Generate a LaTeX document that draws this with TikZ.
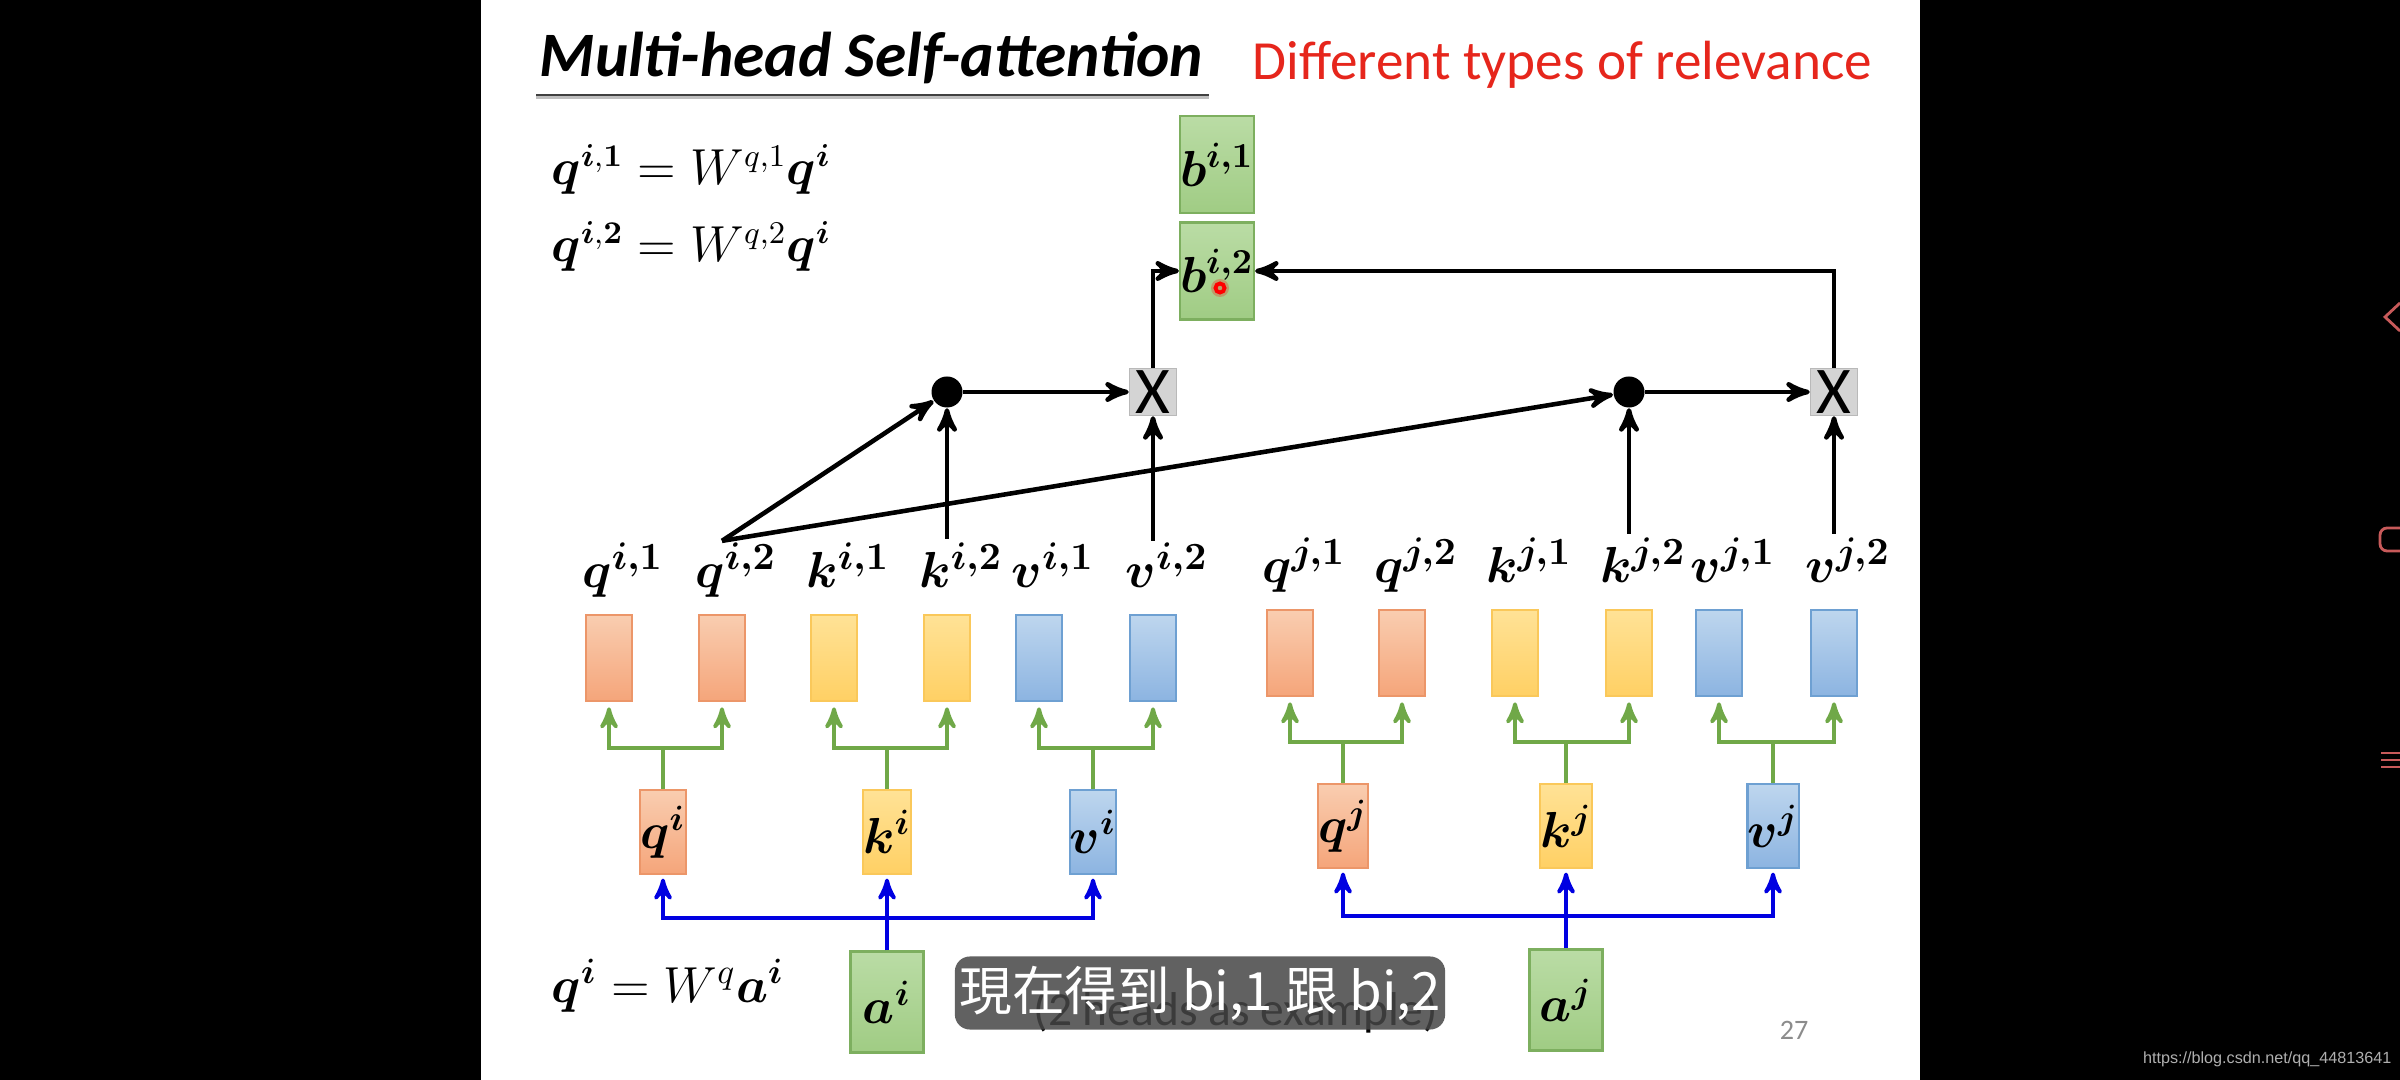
\documentclass[tikz,border=0pt]{standalone}
\usepackage{fontspec}
\usepackage{amsmath}
\usepackage{bm}
\usetikzlibrary{arrows,positioning}
\newfontfamily\calib{Carlito}
\newfontfamily\cjk{Noto Sans CJK TC}
\newfontfamily\webfont{Liberation Sans}
\definecolor{qtop}{RGB}{249,205,176}
\definecolor{qbot}{RGB}{245,165,122}
\definecolor{qline}{RGB}{236,150,105}
\definecolor{ktop}{RGB}{255,226,150}
\definecolor{kbot}{RGB}{255,208,100}
\definecolor{kline}{RGB}{250,200,90}
\definecolor{vtop}{RGB}{190,214,238}
\definecolor{vbot}{RGB}{140,180,225}
\definecolor{vline}{RGB}{110,160,210}
\definecolor{gtop}{RGB}{186,220,165}
\definecolor{gbot}{RGB}{160,204,132}
\definecolor{gline}{RGB}{125,175,95}
\definecolor{grnline}{RGB}{112,168,72}
\definecolor{bluline}{RGB}{0,0,225}
\definecolor{mulfill}{RGB}{212,212,212}
\definecolor{mulline}{RGB}{185,185,185}
\definecolor{redt}{RGB}{230,38,28}
\definecolor{subbg}{RGB}{70,70,70}
\definecolor{pgc}{RGB}{140,140,140}
\definecolor{wmc}{RGB}{175,175,175}
\definecolor{uic}{RGB}{200,90,90}
\begin{document}
\begin{tikzpicture}[x=0.01cm,y=-0.01cm,>=stealth',
    cell/.style={draw,inner sep=0pt,line width=0.6pt},
    sm/.style={cell,minimum width=0.46cm,minimum height=0.86cm},
    md/.style={cell,minimum width=0.44cm,minimum height=0.84cm,font=\fontsize{14}{16}\selectfont},
    big/.style={cell,minimum width=0.73cm,minimum height=0.99cm,font=\fontsize{14}{16}\selectfont},
    colq/.style={top color=qtop,bottom color=qbot,draw=qline},
    colk/.style={top color=ktop,bottom color=kbot,draw=kline},
    colv/.style={top color=vtop,bottom color=vbot,draw=vline},
    colg/.style={top color=gtop,bottom color=gbot,draw=gline},
    lab/.style={inner sep=0pt,font=\fontsize{15}{17}\selectfont},
    dotn/.style={circle,fill=black,inner sep=0pt,minimum size=0.31cm},
    mul/.style={draw=mulline,fill=mulfill,inner sep=0pt,minimum size=0.47cm,font=\calib\fontsize{19}{19}\selectfont},
    blk/.style={->,line width=1.3pt},
    grn/.style={->,draw=grnline,line width=1.1pt,shorten >=1.5pt},
    blu/.style={->,draw=bluline,line width=1.1pt,shorten >=1pt}]
  \useasboundingbox (0,0) rectangle (2400,1080);
  % screen and slide
  \fill[black] (0,0) rectangle (2400,1080);
  \fill[white] (481,0) rectangle (1920,1080);

  % heading
  \node[anchor=base west,inner sep=0pt,font=\calib\bfseries\itshape\fontsize{18}{20}\selectfont] (title) at (539,77) {Multi-head Self-attention};
  \draw[line width=1.4pt,draw=black!25] (536,97) -- (1209,97);
  \draw[line width=0.8pt,draw=black!75] (536,95) -- (1209,95);
  \node[anchor=base west,inner sep=0pt,text=redt,font=\calib\fontsize{15.7}{18}\selectfont] (rel) at (1252,80) {Different types of relevance};

  % formulas
  \node[anchor=base west,inner sep=0pt,font=\fontsize{13.3}{16}\selectfont] (f1) at (551,185) {$\bm{q}^{\bm{i},\bm{1}} = W^{q,1}\bm{q}^{\bm{i}}$};
  \node[anchor=base west,inner sep=0pt,font=\fontsize{13.3}{16}\selectfont] (f2) at (551,262) {$\bm{q}^{\bm{i},\bm{2}} = W^{q,2}\bm{q}^{\bm{i}}$};
  \node[anchor=base west,inner sep=0pt,font=\fontsize{14}{17}\selectfont] (f3) at (551,1002) {$\bm{q}^{\bm{i}} = W^{q}\bm{a}^{\bm{i}}$};

  % heads of i
  \node[sm,colq] (qi1) at (609,658) {};
  \node[sm,colq] (qi2) at (722,658) {};
  \node[sm,colk] (ki1) at (834,658) {};
  \node[sm,colk] (ki2) at (947,658) {};
  \node[sm,colv] (vi1) at (1039,658) {};
  \node[sm,colv] (vi2) at (1153,658) {};
  % heads of j
  \node[sm,colq] (qj1) at (1290,653) {};
  \node[sm,colq] (qj2) at (1402,653) {};
  \node[sm,colk] (kj1) at (1515,653) {};
  \node[sm,colk] (kj2) at (1629,653) {};
  \node[sm,colv] (vj1) at (1719,653) {};
  \node[sm,colv] (vj2) at (1834,653) {};

  \foreach \nm/\ltr/\idx in {qi1/q/{i,1},qi2/q/{i,2},ki1/k/{i,1},ki2/k/{i,2},vi1/v/{i,1},vi2/v/{i,2},
      qj1/q/{j,1},qj2/q/{j,2},kj1/k/{j,1},kj2/k/{j,2},vj1/v/{j,1},vj2/v/{j,2}}
    \node[lab,anchor=base] (l\nm) at ([xshift=0.14cm,yshift=0.26cm]\nm.north) {$\bm{\ltr^{\idx}}$};

  % q, k, v
  \node[md,colq] (qi) at (663,832) {$\bm{q^i}$};
  \node[md,colk] (ki) at (887,832) {$\bm{k^i}$};
  \node[md,colv] (vi) at (1093,832) {$\bm{v^i}$};
  \node[md,colq] (qj) at (1343,826) {$\bm{q^j}$};
  \node[md,colk] (kj) at (1566,826) {$\bm{k^j}$};
  \node[md,colv] (vj) at (1773,826) {$\bm{v^j}$};

  % inputs
  \node[big,colg,minimum height=1.01cm] (ai) at (ki |- 0,1002) {$\bm{a^i}$};
  \node[big,colg,minimum height=1.01cm] (aj) at (kj |- 0,1000) {$\bm{a^j}$};

  % outputs
  \node[big,colg,minimum height=0.97cm,minimum width=0.74cm] (bi2) at (1217,271) {$\bm{b^{i,2}}$};
  \node[big,colg,minimum height=0.97cm,minimum width=0.74cm,above=0.07cm of bi2] (bi1) {$\bm{b^{i,1}}$};

  % attention and weighting
  \node[dotn] (d1) at (ki2 |- 0,392) {};
  \node[mul] (x1) at (vi2 |- 0,392) {X};
  \node[dotn] (d2) at (kj2 |- 0,392) {};
  \node[mul] (x2) at (vj2 |- 0,392) {X};

  \coordinate (qs) at ([yshift=0.73cm]qi2.north);
  \draw[blk] (qs) -- (d1);
  \draw[blk] (qs) -- (d2);
  \draw[blk] ([yshift=0.75cm]ki2.north) -- (d1);
  \draw[blk] ([yshift=0.73cm]vi2.north) -- (x1);
  \draw[blk] ([yshift=0.75cm]kj2.north) -- (d2);
  \draw[blk] ([yshift=0.75cm]vj2.north) -- (x2);
  \draw[blk] (d1) -- (x1);
  \draw[blk] (d2) -- (x2);
  \draw[blk] (x1.north) |- (bi2.west);
  \draw[blk] (x2.north) |- (bi2.east);

  % split into heads
  \foreach \m in {qi,ki,vi,qj,kj,vj}{
    \draw[grn] (\m.north) -- ([yshift=0.41cm]\m.north) -| (\m1.south);
    \draw[grn] ([yshift=0.41cm]\m.north) -| (\m2.south);
  }

  % a to q, k, v
  \foreach \a/\s in {ai/i,aj/j}{
    \draw[blu] (\a.north) -- (k\s.south);
    \draw[blu] ([yshift=0.32cm]\a.north) -| (q\s.south);
    \draw[blu] ([yshift=0.32cm]\a.north) -| (v\s.south);
  }

  % pointer
  \fill[red,opacity=0.25] (1220,288) circle (0.09cm);
  \draw[red,line width=1.1pt] (1220,288) circle (0.045cm);

  % footer
  \node[anchor=base west,inner sep=0pt,font=\calib\fontsize{13.5}{16}\selectfont] (note) at (1033,1025) {(2 heads as example)};
  \node[fill=subbg,fill opacity=0.85,text opacity=1,text=white,rounded corners=0.15cm,inner sep=0pt,
    minimum width=4.9cm,minimum height=0.73cm,font=\cjk\fontsize{15}{18}\selectfont] (cap) at (1200,993) {現在得到 bi,1 跟 bi,2};
  \node[text=pgc,inner sep=0pt,font=\calib\fontsize{8}{9}\selectfont] (pg) at (1794,1030) {27};

  % screen overlay
  \node[anchor=base east,inner sep=0pt,text=wmc,font=\webfont\fontsize{4.6}{5}\selectfont] (wm) at (2392,1063) {https://blog.csdn.net/qq\_44813641};
  \draw[uic,line width=0.8pt] (2400,303) -- (2385,317) -- (2400,331);
  \draw[uic,line width=0.8pt,rounded corners=2pt] (2402,528) -- (2380,528) -- (2380,551) -- (2402,551);
  \foreach \y in {753,760,767} \draw[uic,line width=0.8pt] (2381,\y) -- (2400,\y);
\end{tikzpicture}
\end{document}
